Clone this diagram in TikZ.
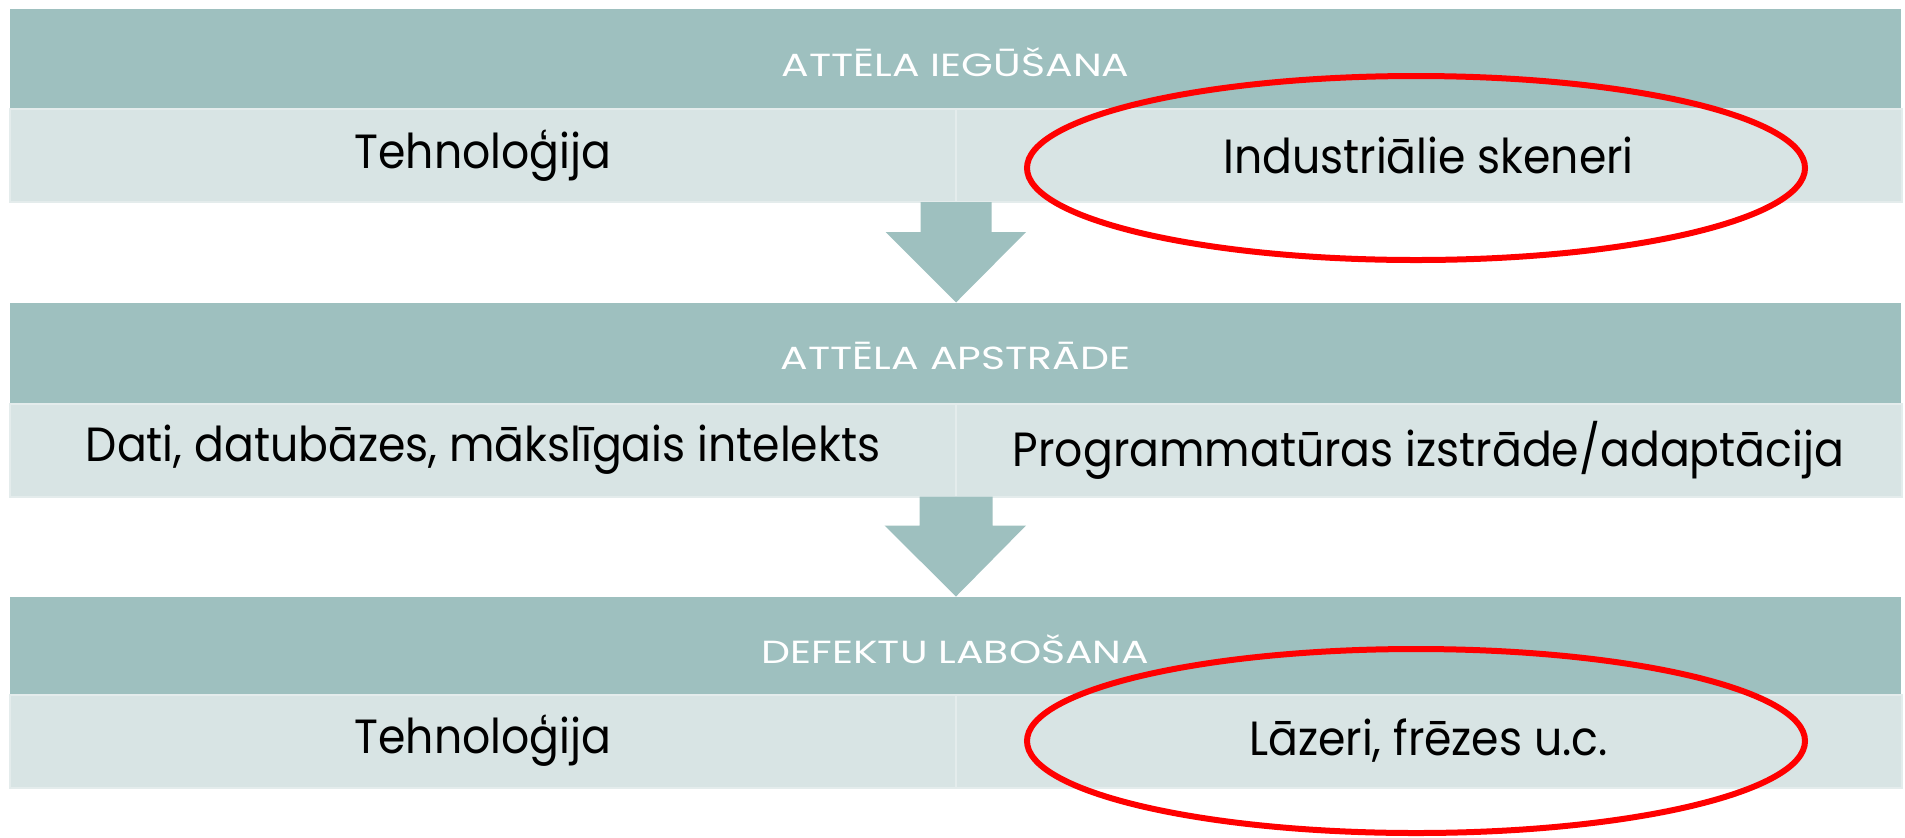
\documentclass[tikz,border=0pt]{standalone}
\usepackage{fontspec}
\setmainfont{Poppins}[FakeStretch=0.92]
\newfontfamily\hdrfont{Poppins}[FakeStretch=1.28]
\usetikzlibrary{calc,shapes.geometric}
\definecolor{hdrc}{RGB}{158,192,191}
\definecolor{cellc}{RGB}{216,228,228}
\definecolor{celledge}{RGB}{228,236,236}
\definecolor{ringc}{RGB}{255,0,0}
\tikzset{
  hdr/.style={fill=hdrc, draw=none, minimum width=945.5pt, minimum height=50pt, inner sep=0pt, outer sep=0pt},
  hdrtext/.style={text=white, font=\hdrfont\fontsize{16}{18}\selectfont, inner sep=0pt},
  cellbox/.style={fill=cellc, draw=celledge, line width=1pt, minimum width=473pt, minimum height=46.5pt, inner sep=0pt, outer sep=0pt,
    text=black, font=\fontsize{24}{28}\selectfont},
  ring/.style={ellipse, draw=ringc, line width=3pt, minimum width=389pt, minimum height=92pt, inner sep=0pt},
  flow/.style={fill=hdrc, draw=none}
}
\begin{document}
\begin{tikzpicture}[x=0.5pt, y=-0.5pt]
\useasboundingbox (0,0) rectangle (1905,837);
% block 1
\node[hdr] (h1) at (955.5,59) {};
\node[hdrtext] (t1) at ($(h1.center)+(0,3)$) {ATTĒLA IEGŪŠANA};
\node[cellbox] (c1l) at (483,155.5) {Tehnoloģija};
\node[cellbox] (c1r) at (1428.5,155.5) {Industriālie skeneri};
% block 2
\node[hdr] (h2) at (955.5,352.5) {};
\node[hdrtext] (t2) at ($(h2.center)+(0,3)$) {ATTĒLA APSTRĀDE};
\node[cellbox] (c2l) at (483,450) {Dati, datubāzes, mākslīgais intelekts};
\node[cellbox] (c2r) at (1428.5,450) {Programmatūras izstrāde/adaptācija};
% block 3
\node[hdr] (h3) at (955.5,646.5) {};
\node[hdrtext] (t3) at ($(h3.center)+(0,3)$) {DEFEKTU LABOŠANA};
\node[cellbox] (c3l) at (483,741) {Tehnoloģija};
\node[cellbox] (c3r) at (1428.5,741) {Lāzeri, frēzes u.c.};
% arrows
\fill[flow] ($(c1l.south east)+(-35.5,0)$) -- ++(71,0) -- ++(0,30) -- ++(34.5,0)
  -- (c1l.south east |- h2.north) -- ($(c1l.south east)+(-70.5,30)$) -- ++(35,0) -- cycle;
\fill[flow] ($(c2l.south east)+(-36.5,0)$) -- ++(73,0) -- ++(0,29) -- ++(33.5,0)
  -- (c2l.south east |- h3.north) -- ($(c2l.south east)+(-71.5,29)$) -- ++(35,0) -- cycle;
% highlight rings
\node[ring] (e1) at ($(c1r.center)+(-12.5,12.5)$) {};
\node[ring] (e2) at ($(c3r.center)+(-12.5,0)$) {};
\end{tikzpicture}
\end{document}
